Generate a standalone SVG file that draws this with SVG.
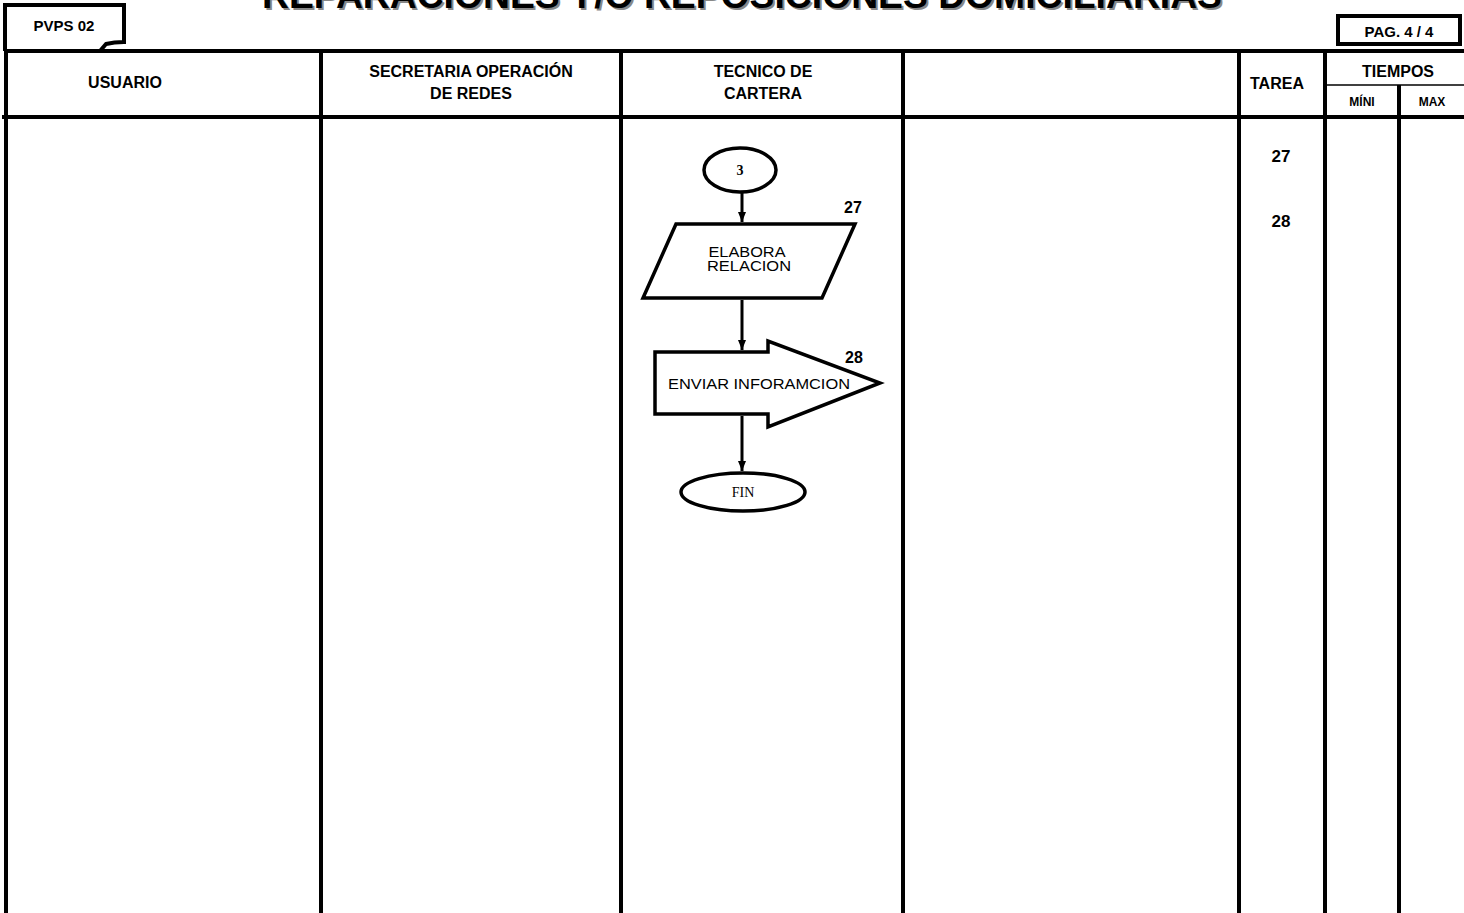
<svg xmlns="http://www.w3.org/2000/svg" width="1464" height="913" viewBox="0 0 1464 913">
<style>
.hd{font-family:"Liberation Sans",Arial,sans-serif;font-weight:bold;fill:#000}
.ln{stroke:#000;stroke-width:4;fill:none}
.sh{stroke:#000;stroke-width:3.5;fill:#fff}
.tx{font-family:"Liberation Sans",Arial,sans-serif;fill:#000;font-size:14px}
.sf{font-family:"Liberation Serif","Times New Roman",serif;fill:#000;font-size:14px}
.cn{stroke:#000;stroke-width:3;fill:none}
</style>
<defs>
<marker id="ah" markerWidth="10" markerHeight="10" refX="10" refY="5" orient="auto" markerUnits="userSpaceOnUse" viewBox="0 0 10 10">
<path d="M0,1 L10,5 L0,9 Z" fill="#000"/>
</marker>
</defs>
<rect width="1464" height="913" fill="#fff"/>
<g id="title">
<text class="hd" x="744" y="10" font-size="37" text-anchor="middle" textLength="960" lengthAdjust="spacingAndGlyphs" style="fill:#888">REPARACIONES Y/O REPOSICIONES DOMICILIARIAS</text>
<text class="hd" x="742" y="8" font-size="37" text-anchor="middle" textLength="960" lengthAdjust="spacingAndGlyphs">REPARACIONES Y/O REPOSICIONES DOMICILIARIAS</text>
</g>
<g id="code-box">
<path d="M5,51 V5 H124 V42 Q114,42 106,44 L100,51" class="ln" stroke-width="3.5"/>
<text class="hd" x="64" y="31" font-size="15" text-anchor="middle">PVPS 02</text>
</g>
<g id="page-box">
<rect x="1338" y="16" width="122" height="28" class="ln" stroke-width="3.5"/>
<text class="hd" x="1399" y="37" font-size="15" text-anchor="middle">PAG. 4 / 4</text>
</g>
<g id="grid">
<line x1="4" y1="51" x2="1464" y2="51" class="ln"/>
<line x1="2" y1="117" x2="1464" y2="117" class="ln"/>
<line x1="1325" y1="85" x2="1464" y2="85" stroke="#000" stroke-width="1.5"/>
<line x1="6" y1="51" x2="6" y2="913" class="ln"/>
<line x1="321" y1="51" x2="321" y2="913" class="ln"/>
<line x1="621" y1="51" x2="621" y2="913" class="ln"/>
<line x1="903" y1="51" x2="903" y2="913" class="ln"/>
<line x1="1239" y1="51" x2="1239" y2="913" class="ln"/>
<line x1="1325" y1="51" x2="1325" y2="913" class="ln"/>
<line x1="1399" y1="85" x2="1399" y2="913" class="ln"/>
</g>
<g id="headers">
<text class="hd" x="125" y="88" font-size="16" text-anchor="middle">USUARIO</text>
<text class="hd" x="471" y="77" font-size="16" text-anchor="middle">SECRETARIA OPERACIÓN</text>
<text class="hd" x="471" y="99" font-size="16" text-anchor="middle">DE REDES</text>
<text class="hd" x="763" y="77" font-size="16" text-anchor="middle">TECNICO DE</text>
<text class="hd" x="763" y="99" font-size="16" text-anchor="middle">CARTERA</text>
<text class="hd" x="1277" y="89" font-size="16" text-anchor="middle">TAREA</text>
<text class="hd" x="1398" y="77" font-size="16" text-anchor="middle">TIEMPOS</text>
<text class="hd" x="1362" y="106" font-size="12" text-anchor="middle">MÍNI</text>
<text class="hd" x="1432" y="106" font-size="12" text-anchor="middle">MAX</text>
</g>
<g id="task-numbers">
<text class="hd" x="1281" y="162" font-size="17" text-anchor="middle">27</text>
<text class="hd" x="1281" y="227" font-size="17" text-anchor="middle">28</text>
</g>
<g id="node-3">
<ellipse cx="740" cy="170" rx="36" ry="22" class="sh"/>
<text class="sf" x="740" y="175" text-anchor="middle" font-weight="bold">3</text>
</g>
<g id="node-27">
<polygon points="676,224 855,224 822,298 643,298" class="sh" stroke-width="4"/>
<text class="tx" x="747" y="257" text-anchor="middle" textLength="77" lengthAdjust="spacingAndGlyphs">ELABORA</text>
<text class="tx" x="749" y="271" text-anchor="middle" textLength="84" lengthAdjust="spacingAndGlyphs">RELACION</text>
<text class="hd" x="853" y="213" font-size="16" text-anchor="middle">27</text>
</g>
<g id="node-28">
<polygon points="655,352 768,352 768,341 880,383 768,427 768,414 655,414" class="sh" stroke-width="4"/>
<text class="tx" x="759" y="389" text-anchor="middle" textLength="182" lengthAdjust="spacingAndGlyphs">ENVIAR INFORAMCION</text>
<text class="hd" x="854" y="363" font-size="16" text-anchor="middle">28</text>
</g>
<g id="node-fin">
<ellipse cx="743" cy="492" rx="62" ry="19" class="sh"/>
<text class="sf" x="743" y="497" text-anchor="middle">FIN</text>
</g>
<g id="connectors">
<line x1="742" y1="193" x2="742" y2="222" class="cn" marker-end="url(#ah)"/>
<line x1="742" y1="300" x2="742" y2="350" class="cn" marker-end="url(#ah)"/>
<line x1="742" y1="416" x2="742" y2="471" class="cn" marker-end="url(#ah)"/>
</g>
</svg>
